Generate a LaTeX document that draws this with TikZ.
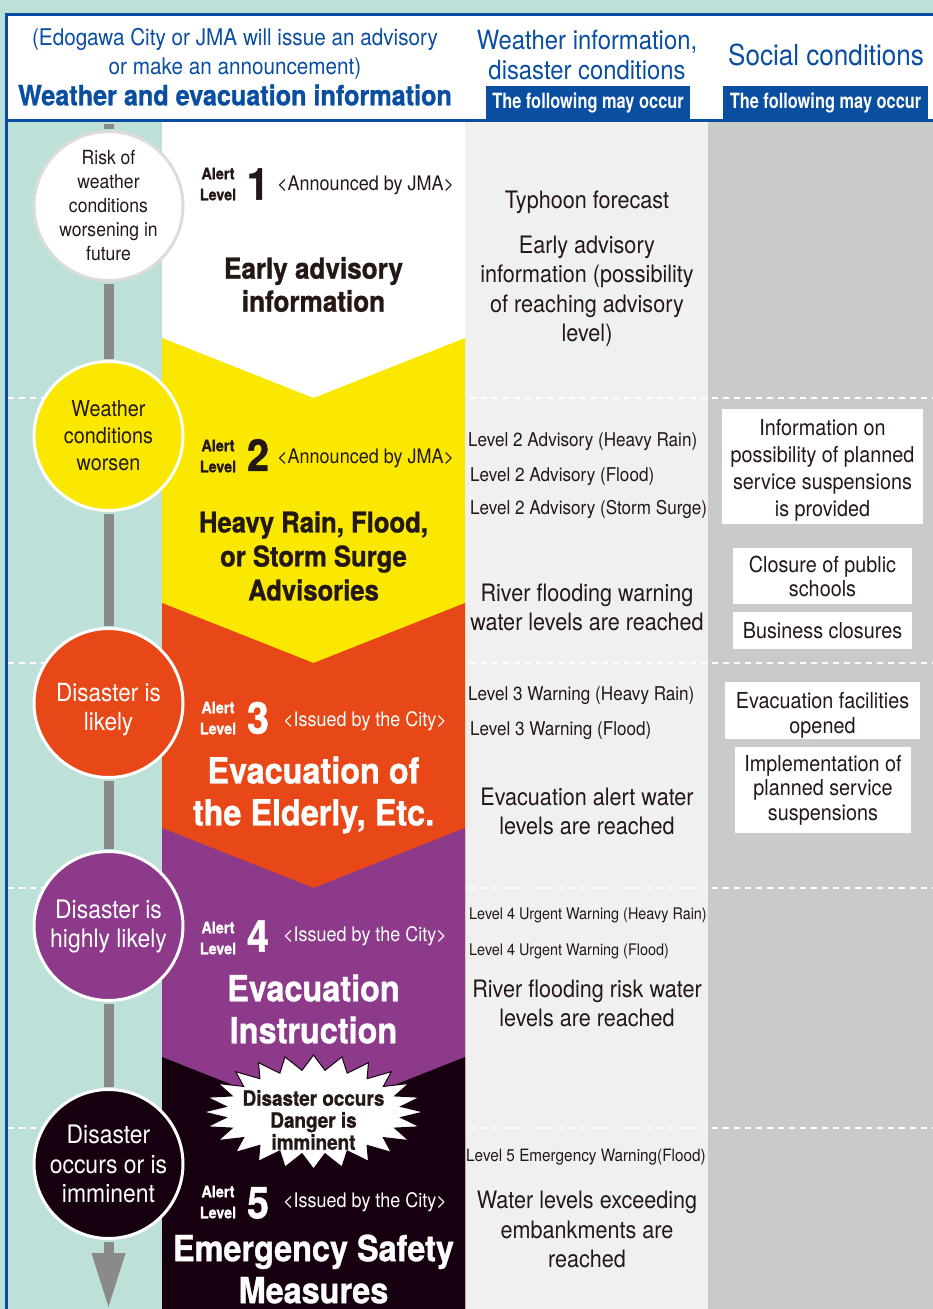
\documentclass[tikz,border=0pt]{standalone}
\usepackage{fontspec}
\setmainfont{TeX Gyre Heros}[FakeStretch=0.9, BoldFeatures={FakeBold=1}]
\newfontfamily\cnd{TeX Gyre Heros}[FakeStretch=0.78]
\usetikzlibrary{arrows.meta}
\definecolor{ink}{RGB}{35,24,21}
\definecolor{hblue}{RGB}{10,78,162}
\definecolor{teal0}{RGB}{189,225,216}
\definecolor{col3}{RGB}{240,240,240}
\definecolor{col4}{RGB}{201,202,202}
\definecolor{lv2}{RGB}{250,232,0}
\definecolor{lv3}{RGB}{232,72,24}
\definecolor{lv4}{RGB}{141,58,139}
\definecolor{lv5}{RGB}{22,0,16}
\definecolor{spinegray}{RGB}{138,138,138}
\definecolor{circgray}{RGB}{220,220,220}
\newcommand\myfs[2]{\fontsize{#1}{#2}\selectfont}
\begin{document}
\begin{tikzpicture}[x=1pt,y=-1pt,
  every node/.style={inner sep=0pt, text=ink, align=center},
  circ/.style={circle, minimum size=149pt, inner sep=0pt, line width=3pt, draw=white},
  sbox/.style={fill=white, inner sep=0pt, font=\myfs{22}{26}},
  hbox/.style={fill=hblue, text=white, font=\cnd\bfseries\myfs{21}{24}, minimum height=33pt},
  lvl/.style={anchor=west, font=\myfs{19}{22}},
  lvlsmall/.style={anchor=west, font=\myfs{16}{19}},
  info/.style={font=\myfs{24}{29.5}},
  alert/.style={font=\bfseries\myfs{16}{21}},
  digit/.style={font=\bfseries\myfs{44}{44}},
  issuer/.style={anchor=west, font=\myfs{20}{24}},
  title/.style={font=\bfseries\myfs{29}{33}},
  bigtitle/.style={font=\bfseries\myfs{36}{42}, text=white},
  sep/.style={draw=white, line width=2pt, dash pattern=on 6pt off 5pt},
  spine/.style={draw=spinegray, line width=10pt, shorten <=1.5pt, shorten >=1.5pt}
]
\useasboundingbox (0,0) rectangle (933,1309);
% backgrounds
\fill[teal0] (0,0) rectangle (933,1309);
\fill[white] (8,16) rectangle (933,119);
\fill[hblue] (5,13) rectangle (933,16);
\fill[hblue] (5,119) rectangle (933,122);
\fill[hblue] (5,13) rectangle (8,1309);
\fill[col3] (465,122) rectangle (708,1309);
\fill[col4] (708,122) rectangle (933,1309);
\foreach \yy in {398,663,888,1128} \draw[sep] (8,\yy) -- (933,\yy);
% middle column bands
\fill[white] (162,122) rectangle (465,1309);
\fill[lv2] (162,338) -- (313.5,398) -- (465,338) -- (465,1309) -- (162,1309) -- cycle;
\fill[lv3] (162,603) -- (313.5,663) -- (465,603) -- (465,1309) -- (162,1309) -- cycle;
\fill[lv4] (162,828) -- (313.5,888) -- (465,828) -- (465,1309) -- (162,1309) -- cycle;
\fill[lv5] (162,1057) -- (313.5,1117) -- (465,1057) -- (465,1309) -- (162,1309) -- cycle;
% header
\node[font=\myfs{23}{29}, text=hblue] (h1) at (235,54) {(Edogawa City or JMA will issue an advisory\\or make an announcement)};
\node[font=\bfseries\myfs{28}{32}, text=hblue] (h2) at (235,95) {Weather and evacuation information};
\node[font=\myfs{26.5}{30}, text=hblue] (h3) at (587,55) {Weather information,\\disaster conditions};
\node[font=\myfs{29}{32}, text=hblue] (h4) at (826,55) {Social conditions};
\node[hbox, minimum width=204pt] (f1) at (588,102.5) {The following may occur};
\node[hbox, minimum width=205pt] (f2) at (825.5,102.5) {The following may occur};
% circles
\coordinate (top) at (108.5,122);
\coordinate (bot) at (108.5,1309);
\node[circ, fill=white, draw=circgray, font=\myfs{19.5}{24}] (s1) at (108.5,206) {Risk of\\weather\\conditions\\worsening in\\future};
\node[circ, fill=lv2, font=\myfs{22}{27}] (s2) at (108.5,436) {Weather\\conditions\\worsen};
\node[circ, fill=lv3] (s3) at (108.5,703) {};
\node[text=white, font=\myfs{25}{29}] (s3t) at (108.5,710) {Disaster is\\likely};
\node[circ, fill=lv4, text=white, font=\myfs{25.5}{29}] (s4) at (108.5,926) {Disaster is\\highly likely};
\node[circ, fill=lv5, text=white, font=\myfs{25.5}{29.5}] (s5) at (108.5,1164) {Disaster\\occurs or is\\imminent};
\draw[spine] (top) -- (s1);
\draw[spine] (s1) -- (s2);
\draw[spine] (s2) -- (s3);
\draw[spine] (s3) -- (s4);
\draw[spine] (s4) -- (s5);
\draw[spine, shorten >=0pt, -{Triangle[width=31pt,length=56pt]}] (s5) -- (bot);
% level 1
\node[alert] (a1) at (218,184) {Alert\\Level};
\node[digit] (d1) at (258,184) {1};
\node[issuer] (i1) at (277,185) {<Announced by JMA>};
\node[title] (t1) at (313.5,284.5) {Early advisory\\information};
% level 2
\node[alert] (a2) at (218,456) {Alert\\Level};
\node[digit] (d2) at (258,455) {2};
\node[issuer] (i2) at (277,458) {<Announced by JMA>};
\node[font=\bfseries\myfs{28.5}{34}] (t2) at (313.5,556) {Heavy Rain, Flood,\\or Storm Surge\\Advisories};
% level 3
\node[alert, text=white] (a3) at (218,718) {Alert\\Level};
\node[digit, text=white] (d3) at (258,718) {3};
\node[issuer, text=white] (i3) at (283,721) {<Issued by the City>};
\node[bigtitle] (t3) at (313.5,795) {Evacuation of\\the Elderly, Etc.};
% level 4
\node[alert, text=white] (a4) at (218,938) {Alert\\Level};
\node[digit, text=white] (d4) at (258,936) {4};
\node[issuer, text=white] (i4) at (283,936) {<Issued by the City>};
\node[bigtitle] (t4) at (313.5,1009) {Evacuation\\Instruction};
% starburst
\filldraw[fill=white, draw=lv5, line width=1pt] plot[samples=49, domain=0:48, variable=\k]
  ({313.5+ifthenelse(mod(\k,2)<0.5,110,88)*cos(\k*7.5)}, {1112+ifthenelse(mod(\k,2)<0.5,57,42)*sin(\k*7.5)}) -- cycle;
\node[font=\bfseries\myfs{21}{22}] (burst) at (313.5,1120) {Disaster occurs\\Danger is\\imminent};
% level 5
\node[alert, text=white] (a5) at (218,1202) {Alert\\Level};
\node[digit, text=white] (d5) at (258,1203) {5};
\node[issuer, text=white] (i5) at (283,1202) {<Issued by the City>};
\node[bigtitle] (t5) at (313.5,1269) {Emergency Safety\\Measures};
% column 3
\node[info] (w1) at (587,202) {Typhoon forecast};
\node[info] (w2) at (587,291.5) {Early advisory\\information (possibility\\of reaching advisory\\level)};
\node[lvl] (w3) at (468,442) {Level 2 Advisory (Heavy Rain)};
\node[lvl] (w4) at (470,477) {Level 2 Advisory (Flood)};
\node[lvl] (w5) at (470,509) {Level 2 Advisory (Storm Surge)};
\node[info, font=\myfs{24}{29}] (w6) at (587,607) {River flooding warning\\water levels are reached};
\node[lvl] (w7) at (468,696) {Level 3 Warning (Heavy Rain)};
\node[lvl] (w8) at (470,731) {Level 3 Warning (Flood)};
\node[info, font=\myfs{24}{29}] (w9) at (587,811.5) {Evacuation alert water\\levels are reached};
\node[lvlsmall] (w10) at (469,915) {Level 4 Urgent Warning (Heavy Rain)};
\node[lvlsmall] (w11) at (469,951) {Level 4 Urgent Warning (Flood)};
\node[info, font=\myfs{24}{29}] (w12) at (587,1003.5) {River flooding risk water\\levels are reached};
\node[lvlsmall, font=\myfs{17}{20}] (w13) at (466,1157) {Level 5 Emergency Warning(Flood)};
\node[info] (w14) at (587,1229.5) {Water levels exceeding\\embankments are\\reached};
% column 4
\node[sbox, minimum width=201pt, minimum height=115pt] (q1) at (822.5,466.5) {};
\node[font=\myfs{22}{27}] (q1t) at (822.5,470) {Information on\\possibility of planned\\service suspensions\\is provided};
\node[sbox, minimum width=179pt, minimum height=56pt, font=\myfs{22}{24}] (q2) at (822.5,576) {Closure of public\\schools};
\node[sbox, minimum width=179pt, minimum height=37pt] (q3) at (822.5,630.5) {Business closures};
\node[sbox, minimum width=195pt, minimum height=57pt] (q4) at (822.5,710.5) {};
\node[font=\myfs{22}{25}] (q4t) at (822.5,715) {Evacuation facilities\\opened};
\node[sbox, minimum width=176pt, minimum height=86pt, font=\myfs{22}{24.5}] (q5) at (823,790) {Implementation of\\planned service\\suspensions};
\end{tikzpicture}
\end{document}
